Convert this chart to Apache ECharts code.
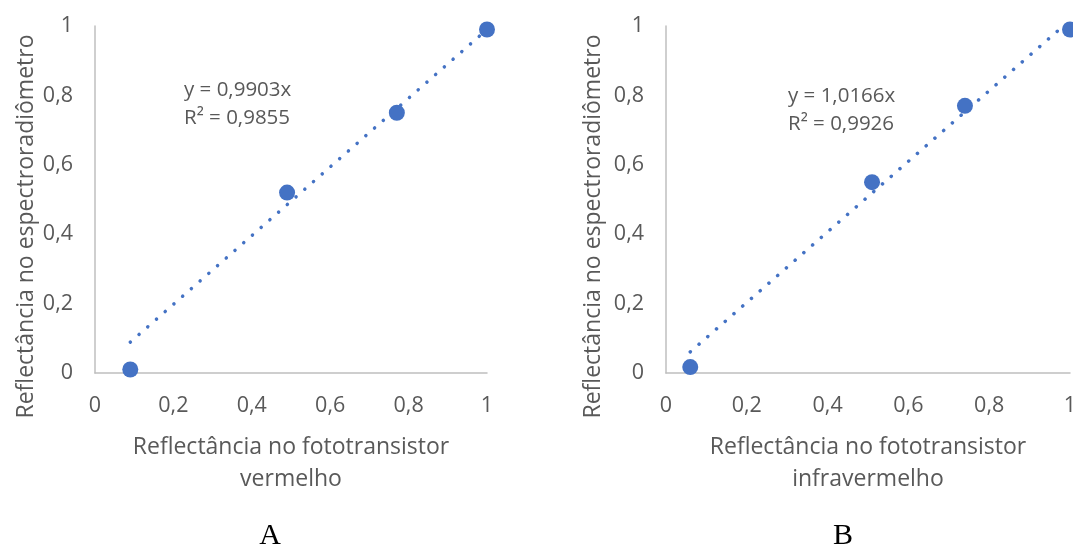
<!DOCTYPE html>
<html>
<head>
<meta charset="utf-8">
<script src="https://cdn.jsdelivr.net/npm/echarts@6/dist/echarts.min.js"></script>
<style>
html,body{margin:0;padding:0;background:#fff;}
#c{width:1073px;height:553px;}
</style>
</head>
<body>
<div id="c"></div>
<script>
// Data
const xTicks = ['0', '0,2', '0,4', '0,6', '0,8', '1'];
const yTicks = ['0', '0,2', '0,4', '0,6', '0,8', '1'];
const pointsA = [[0.09, 0.01], [0.49, 0.52], [0.77, 0.75], [1.0, 0.99]];
const pointsB = [[0.06, 0.017], [0.51, 0.55], [0.74, 0.77], [1.0, 0.99]];
const trendA = [[0.09, 0.089], [1.0, 0.990]];
const trendB = [[0.06, 0.061], [1.0, 1.017]];
const eqA = ['y = 0,9903x', 'R² = 0,9855'];
const eqB = ['y = 1,0166x', 'R² = 0,9926'];
const xNameA = 'Reflectância no fototransistor\nvermelho';
const xNameB = 'Reflectância no fototransistor\ninfravermelho';
const yName = 'Reflectância no espectroradiômetro';
const panelLabels = ['A', 'B'];

const FONT = 'Open Sans';
const TXT = '#595959';
const BLUE = '#4472C4';
const AXIS = '#bfbfbf';

function tickFmt(v) {
  const i = Math.round(v * 5);
  return xTicks[i] !== undefined ? xTicks[i] : '';
}
function yTickFmt(v) {
  const i = Math.round(v * 5);
  return yTicks[i] !== undefined ? yTicks[i] : '';
}

function xAxis(gi, name) {
  return {
    type: 'value', gridIndex: gi, min: 0, max: 1, interval: 0.2,
    splitLine: {show: false}, axisTick: {show: false},
    axisLine: {show: true, lineStyle: {color: AXIS, width: 1.5}},
    axisLabel: {color: TXT, fontFamily: FONT, fontSize: 21.5, margin: 22, formatter: tickFmt},
    name: name, nameLocation: 'middle', nameGap: 58,
    nameTextStyle: {color: TXT, fontFamily: FONT, fontSize: 23, lineHeight: 32}
  };
}
function yAxis(gi, gap) {
  return {
    type: 'value', gridIndex: gi, min: 0, max: 1, interval: 0.2,
    splitLine: {show: false}, axisTick: {show: false},
    axisLine: {show: true, lineStyle: {color: AXIS, width: 1.5}},
    axisLabel: {color: TXT, fontFamily: FONT, fontSize: 21.5, margin: 22, formatter: yTickFmt},
    name: yName, nameLocation: 'middle', nameGap: gap,
    nameTextStyle: {color: TXT, fontFamily: FONT, fontSize: 23, padding: [0, 54, 0, 0]}
  };
}
function trend(gi, data) {
  return {
    type: 'line', xAxisIndex: gi, yAxisIndex: gi, data: data,
    symbol: 'none', silent: true, z: 1, clip: true,
    lineStyle: {color: BLUE, width: 3.5, type: [0.1, 11.5], cap: 'round'}
  };
}
function pts(gi, data) {
  return {
    type: 'scatter', xAxisIndex: gi, yAxisIndex: gi, data: data,
    symbolSize: 16, itemStyle: {color: BLUE, opacity: 1}, z: 3, clip: false
  };
}
function eqText(left, top, lines) {
  return {
    type: 'text', left: left, top: top,
    style: {text: lines.join('\n'), fill: TXT, font: '20.5px "' + FONT + '"', lineHeight: 28}
  };
}

const chart = echarts.init(document.getElementById('c'), null, {renderer: 'canvas'});
chart.setOption({
  animation: false,
  backgroundColor: '#fff',
  grid: [
    {left: 95, top: 26, width: 392, height: 347, outerBoundsMode: 'none', containLabel: false},
    {left: 666, top: 26, width: 404, height: 347, outerBoundsMode: 'none', containLabel: false}
  ],
  xAxis: [xAxis(0, xNameA), xAxis(1, xNameB)],
  yAxis: [yAxis(0, 57), yAxis(1, 61)],
  series: [trend(0, trendA), pts(0, pointsA), trend(1, trendB), pts(1, pointsB)],
  graphic: [
    eqText(184, 76, eqA),
    eqText(788, 82, eqB),
    {type: 'text', x: 270, y: 551, style: {text: panelLabels[0], fill: '#000', font: '30px "Liberation Serif"', align: 'center', verticalAlign: 'bottom'}},
    {type: 'text', x: 843, y: 551, style: {text: panelLabels[1], fill: '#000', font: '30px "Liberation Serif"', align: 'center', verticalAlign: 'bottom'}}
  ]
});
</script>
</body>
</html>
